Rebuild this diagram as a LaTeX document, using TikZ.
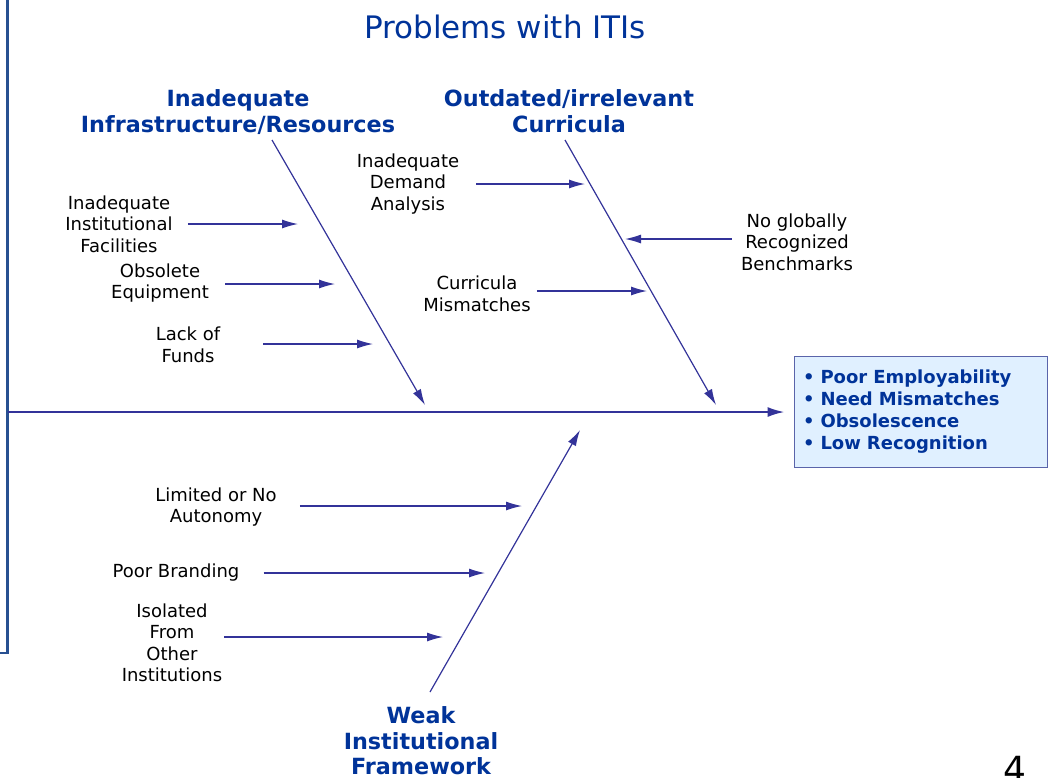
\documentclass[tikz,border=0pt]{standalone}
\usepackage{fontspec}
\setmainfont{DejaVu Sans}
\usepackage{xcolor}
\usetikzlibrary{arrows.meta, calc, positioning}
\definecolor{bonecol}{RGB}{51,51,153}
\definecolor{headcol}{RGB}{0,51,153}
\definecolor{boxfill}{RGB}{224,240,255}
\definecolor{boxline}{RGB}{90,100,170}
\definecolor{framecol}{RGB}{40,80,145}
\tikzset{
  % Fishbone arrow styles
  barr/.style={
    draw=bonecol, line width = 1.2pt
  },
  spine/.style={
    draw=bonecol, line width = 2.2pt
  },
}

\begin{document}
\begin{tikzpicture}
          [x=1pt, y=-1pt
          , lbl/.style={align=center, inner sep=0pt
                       , font=\fontsize{18}{21.5}\selectfont}
          , head/.style={align=center, inner sep=0pt, text=headcol
                        , font=\fontsize{22.3}{25.5}\selectfont\bfseries}
          ]
          \useasboundingbox (0,0) rectangle (1048,777);

          % slide frame
          \draw[framecol, line width=2.5pt] (7.5,0) -- (7.5,653) -- (0,653);

          \node (title) at (505,27) [text=headcol
                                    , inner sep=0pt
                                    , font=\fontsize{31}{36}\selectfont]
                                    {Problems with ITIs};

          \node (infra) at (238,112) [head]
                        {Inadequate\\Infrastructure/Resources};
          \node (curr) at (569,111) [head]
                        {Outdated/irrelevant\\Curricula};
          \node (weak) at (421,741) [head]
                        {Weak\\Institutional\\Framework};

          \node (effects) at (920.5,411.5) [draw=boxline
                        , fill=boxfill
                        , line width=0.8pt
                        , minimum height=111pt
                        , inner xsep=9pt
                        , text width=235pt
                        , align=left
                        , text=headcol
                        , font=\fontsize{18}{22}\selectfont\bfseries]
                        {\textbullet\ Poor Employability\\
                         \textbullet\ Need Mismatches\\
                         \textbullet\ Obsolescence\\
                         \textbullet\ Low Recognition\\[4pt]};

          \node (fac) at (119,224) [lbl] {Inadequate\\Institutional\\Facilities};
          \node (obs) at (160,283) [lbl] {Obsolete\\Equipment};
          \node (fund) at (188,345) [lbl] {Lack of\\Funds};
          \node (dem) at (408,184) [lbl] {Inadequate\\Demand\\Analysis};
          \node (bench) at (797,242) [lbl] {No globally\\Recognized\\Benchmarks};
          \node (mism) at (477,294) [lbl] {Curricula\\Mismatches};
          \node (auto) at (216,507) [lbl] {Limited or No\\Autonomy};
          \node (brand) at (176,573) [lbl] {Poor Branding};
          \node (iso) at (172,643) [lbl] {Isolated\\From\\Other\\Institutions};

          % bone ends
          \coordinate (infra-s) at (272,140);
          \coordinate (infra-e) at (425,405);
          \coordinate (curr-s) at (565,140);
          \coordinate (curr-e) at (716,405);
          \coordinate (weak-s) at (430,692);
          \coordinate (weak-e) at (580,430);
          \coordinate (tail) at (7.5,412);

          % arrow tips of the causes
          \coordinate (fac-e) at (298,224);
          \coordinate (obs-e) at (335,284);
          \coordinate (fund-e) at (373,344);
          \coordinate (dem-e) at (585,184);
          \coordinate (bench-e) at (625,239);
          \coordinate (mism-e) at (647,291);
          \coordinate (auto-e) at (522,506);
          \coordinate (brand-e) at (485,573);
          \coordinate (iso-e) at (443,637);

          \draw[-{Latex[length=17pt,width=10pt]},spine,shorten >=9pt] (tail) -- (effects.west |- tail);

          \draw[-{Latex[length=16pt,width=9pt]},barr] (infra-s) -- (infra-e);
          \draw[-{Latex[length=16pt,width=9pt]},barr] (curr-s) -- (curr-e);
          \draw[-{Latex[length=16pt,width=9pt]},barr] (weak-s) -- (weak-e);

          \draw[-{Latex[length=16pt,width=9pt]},barr,shorten <=15pt] (fac.east |- fac-e) -- (fac-e);
          \draw[-{Latex[length=16pt,width=9pt]},barr,shorten <=16pt] (obs.east |- obs-e) -- (obs-e);
          \draw[-{Latex[length=16pt,width=9pt]},barr,shorten <=43pt] (fund.east |- fund-e) -- (fund-e);
          \draw[-{Latex[length=16pt,width=9pt]},barr,shorten <=17pt] (dem.east |- dem-e) -- (dem-e);
          \draw[-{Latex[length=16pt,width=9pt]},barr,shorten <=9pt] (bench.west |- bench-e) -- (bench-e);
          \draw[-{Latex[length=16pt,width=9pt]},barr,shorten <=6pt] (mism.east |- mism-e) -- (mism-e);
          \draw[-{Latex[length=16pt,width=9pt]},barr,shorten <=23pt] (auto.east |- auto-e) -- (auto-e);
          \draw[-{Latex[length=16pt,width=9pt]},barr,shorten <=24pt] (brand.east |- brand-e) -- (brand-e);
          \draw[-{Latex[length=16pt,width=9pt]},barr,shorten <=2pt] (iso.east |- iso-e) -- (iso-e);

          \node (pgnum) at (1015,756) [anchor=north, inner sep=0pt
                                      , font=\fontsize{36}{40}\selectfont]
                                      {4};
      \end{tikzpicture}
\end{document}
